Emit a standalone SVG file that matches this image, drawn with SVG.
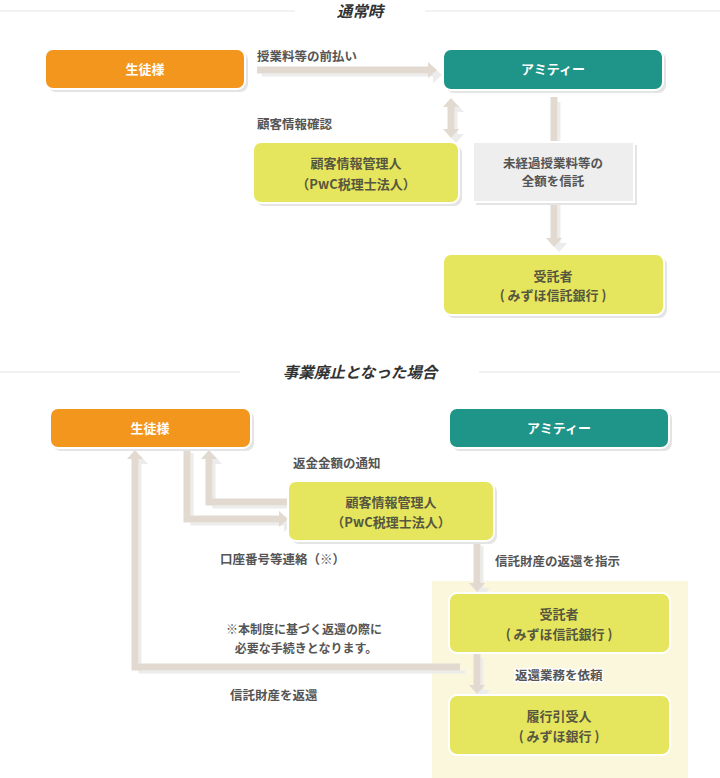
<svg xmlns="http://www.w3.org/2000/svg" xmlns:xlink="http://www.w3.org/1999/xlink" width="720" height="778" viewBox="0 0 720 778">
<style>
text{font-family:"Noto Sans CJK JP","Noto Sans",sans-serif;font-weight:700}
.hd{font-size:15.5px;fill:#333;font-style:italic;text-anchor:middle}
.hl{stroke:#e6e6e6;stroke-width:1.2}
.lb{font-size:12.5px;fill:#555}
.nt{font-size:12px;fill:#555;text-anchor:middle}
.bt{font-size:13px;fill:#fff;text-anchor:middle}
.yt{font-size:13px;fill:#57573f;text-anchor:middle}
.gt{font-size:12.5px;fill:#555;text-anchor:middle}
.sh{fill:#e4e4e4}
.or{fill:#f3961e;stroke:#fff;stroke-width:2}
.tl{fill:#1f9488;stroke:#fff;stroke-width:2}
.yl{fill:#e6e65e;stroke:#fff;stroke-width:2}
.gy{fill:#eeeeee;stroke:#fff;stroke-width:2}
.w{fill:none;stroke:currentColor}
.h{fill:currentColor;stroke:none}
.halo{stroke:#fff;stroke-width:3;paint-order:stroke;stroke-linejoin:round}
</style>

<!-- section headers -->
<line class="hl" x1="0" y1="11" x2="295" y2="11"/>
<line class="hl" x1="425" y1="11" x2="720" y2="11"/>
<text class="hd" x="360" y="17">通常時</text>
<line class="hl" x1="0" y1="372" x2="240" y2="372"/>
<line class="hl" x1="479" y1="372" x2="720" y2="372"/>
<text class="hd" x="360" y="378">事業廃止となった場合</text>

<!-- background panel -->
<rect x="432" y="581" width="256" height="197" fill="#fbf7dc"/>

<!-- connector shadows -->
<use xlink:href="#connectors" href="#connectors" color="#ececec" stroke-width="3" transform="translate(5,5)"/>
<g color="#e2dad1" stroke-width="7">
<g id="connectors">
  <path class="w" d="M257 70 H429"/>
  <polygon class="h" points="428,62 437,70 428,78"/>
  <path class="w" d="M451 106 V130"/>
  <polygon class="h" points="443,107 451,98 459,107"/>
  <polygon class="h" points="443,129 451,138 459,129"/>
  <path class="w" d="M554 97 V239"/>
  <polygon class="h" points="546,238 554,247 562,238"/>
  <path class="w" d="M187 448 V519 H280"/>
  <polygon class="h" points="279,511 288,519 279,527"/>
  <path class="w" d="M288 502 H209 V458"/>
  <polygon class="h" points="201,459 209,450 217,459"/>
  <path class="w" d="M460 667 H135 V458"/>
  <polygon class="h" points="127,459 135,450 143,459"/>
  <path class="w" d="M477 541 V584"/>
  <polygon class="h" points="469,583 477,592 485,583"/>
  <path class="w" d="M477 653 V686"/>
  <polygon class="h" points="469,685 477,694 485,685"/>
</g>
</g>

<!-- labels -->
<text class="lb" x="257" y="61">授業料等の前払い</text>
<text class="lb" x="257" y="129">顧客情報確認</text>
<text class="lb" x="293" y="468">返金金額の通知</text>
<text class="lb" x="220" y="564">口座番号等連絡（※）</text>
<text class="lb" x="495" y="566">信託財産の返還を指示</text>
<text class="nt" x="304" y="634">※本制度に基づく返還の際に</text>
<text class="nt" x="306" y="653">必要な手続きとなります。</text>
<text class="lb" x="230" y="700">信託財産を返還</text>

<!-- top nodes -->
<g id="student-top">
  <rect class="sh" x="48" y="52" width="200" height="40" rx="8"/>
  <rect class="or" x="45" y="49" width="200" height="40" rx="8"/>
  <text class="bt" x="145" y="74">生徒様</text>
</g>
<g id="amity-top">
  <rect class="sh" x="446" y="52" width="220" height="41" rx="8"/>
  <rect class="tl" x="443" y="49" width="220" height="41" rx="8"/>
  <text class="bt" x="553" y="74">アミティー</text>
</g>
<g id="custinfo-top">
  <rect class="sh" x="256" y="145" width="206" height="61" rx="8"/>
  <rect class="yl" x="253" y="142" width="206" height="61" rx="8"/>
  <text class="yt" x="356" y="168">顧客情報管理人</text>
  <text class="yt" x="356" y="189">（PwC税理士法人）</text>
</g>
<g id="trust-note">
  <rect class="sh" x="476" y="145" width="161" height="60"/>
  <rect class="gy" x="473" y="142" width="161" height="60"/>
  <text class="gt" x="553" y="168">未経過授業料等の</text>
  <text class="gt" x="553" y="186">全額を信託</text>
</g>
<g id="trustee-top">
  <rect class="sh" x="446" y="257" width="221" height="61" rx="8"/>
  <rect class="yl" x="443" y="254" width="221" height="61" rx="8"/>
  <text class="yt" x="553" y="281">受託者</text>
  <text class="yt" x="553" y="300">( みずほ信託銀行 )</text>
</g>

<!-- bottom nodes -->
<g id="student-bottom">
  <rect class="sh" x="53" y="411" width="201" height="40" rx="8"/>
  <rect class="or" x="50" y="408" width="201" height="40" rx="8"/>
  <text class="bt" x="150" y="433">生徒様</text>
</g>
<g id="amity-bottom">
  <rect class="sh" x="452" y="411" width="220" height="40" rx="8"/>
  <rect class="tl" x="449" y="408" width="220" height="40" rx="8"/>
  <text class="bt" x="559" y="433">アミティー</text>
</g>
<g id="custinfo-bottom">
  <rect class="sh" x="291" y="484" width="206" height="60" rx="8"/>
  <rect class="yl" x="288" y="481" width="206" height="60" rx="8"/>
  <text class="yt" x="391" y="507">顧客情報管理人</text>
  <text class="yt" x="391" y="527">（PwC税理士法人）</text>
</g>
<g id="trustee-bottom">
  <rect class="yl" x="449" y="593" width="221" height="60" rx="8"/>
  <text class="yt" x="559" y="619">受託者</text>
  <text class="yt" x="559" y="639">( みずほ信託銀行 )</text>
</g>
<g id="performer">
  <rect class="yl" x="449" y="695" width="221" height="60" rx="8"/>
  <text class="yt" x="559" y="721">履行引受人</text>
  <text class="yt" x="559" y="741">( みずほ銀行 )</text>
</g>
<text class="lb halo" x="515" y="680">返還業務を依頼</text>
</svg>
